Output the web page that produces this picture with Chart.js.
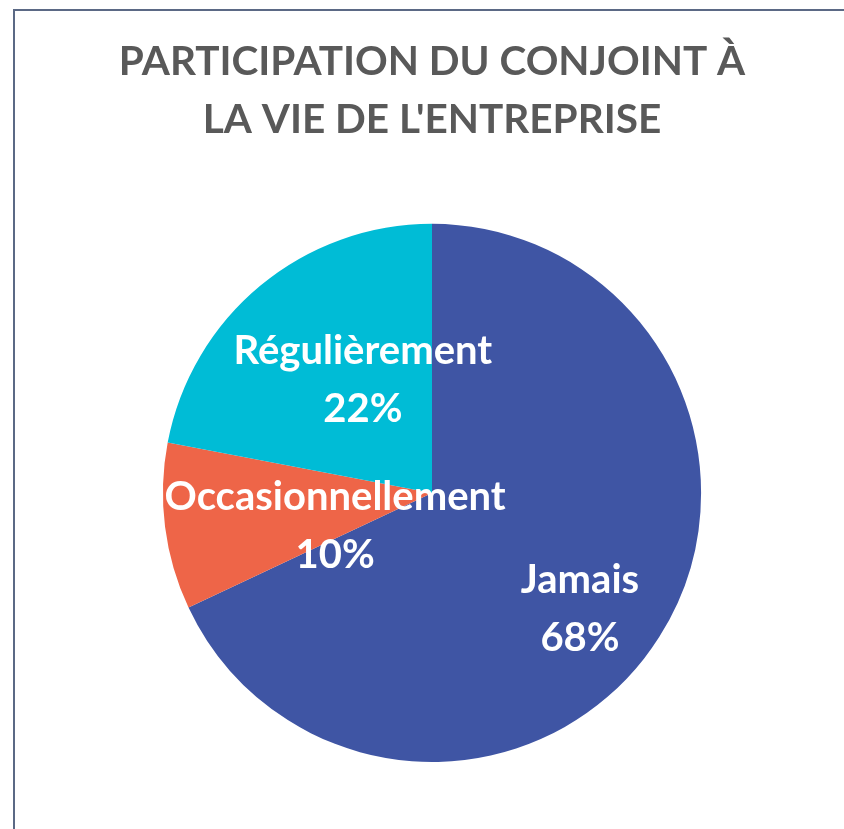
<!DOCTYPE html>
<html>
<head>
<meta charset="utf-8">
<script src="https://cdn.jsdelivr.net/npm/chart.js@4.4.1/dist/chart.umd.min.js"></script>
<style>
    html, body { margin: 0; padding: 0; background: #fff; overflow: hidden; }
    #frame {
        position: absolute; left: 13px; top: 9px;
        width: 900px; height: 900px;
        border: 2px solid #5b6985; box-sizing: border-box;
    }
    #wrap { position: absolute; left: 0; top: 0; width: 844px; height: 829px; }
</style>
</head>
<body>
<div id="frame"></div>
<div id="wrap"><canvas id="pieChart" width="844" height="829"></canvas></div>
<script>
// Chart data
const categories = ['Jamais', 'Occasionnellement', 'Régulièrement'];
const shares = [68, 10, 22];
const sliceColors = ['#3f55a4', '#ee6548', '#00bcd6'];

// label position inside each slice, as a fraction of the radius (dx, dy)
const labelSpots = [[0.55, 0.43], [-0.36, 0.123], [-0.257, -0.42]];

// Draws "Category / NN%" labels in white on the slices
const sliceLabels = {
    id: 'sliceLabels',
    afterDatasetsDraw(chart) {
        const ctx = chart.ctx;
        const arcs = chart.getDatasetMeta(0).data;
        ctx.save();
        ctx.fillStyle = '#ffffff';
        ctx.textAlign = 'center';
        ctx.textBaseline = 'middle';
        ctx.font = 'bold 40px Lato';
        arcs.forEach((arc, i) => {
            const r = arc.outerRadius;
            const x = arc.x + labelSpots[i][0] * r;
            const y = arc.y + labelSpots[i][1] * r;
            ctx.fillText(categories[i], x, y - 29);
            ctx.fillText(shares[i] + '%', x, y + 29);
        });
        ctx.restore();
    }
};

const ctx = document.getElementById('pieChart').getContext('2d');
new Chart(ctx, {
    type: 'pie',
    data: {
        labels: categories,
        datasets: [{
            data: shares,
            backgroundColor: sliceColors,
            borderWidth: 0
        }]
    },
    options: {
        responsive: false,
        animation: false,
        layout: { padding: { top: 33, bottom: 67, left: 20, right: 0 } },
        plugins: {
            legend: { display: false },
            tooltip: { enabled: false },
            title: {
                display: true,
                text: ['PARTICIPATION DU CONJOINT À', "LA VIE DE L'ENTREPRISE"],
                color: '#595959',
                font: { family: 'Lato', size: 40.5, weight: 'bold', lineHeight: 1.43 },
                padding: { top: 0, bottom: 75 }
            }
        }
    },
    plugins: [sliceLabels]
});
</script>
</body>
</html>
